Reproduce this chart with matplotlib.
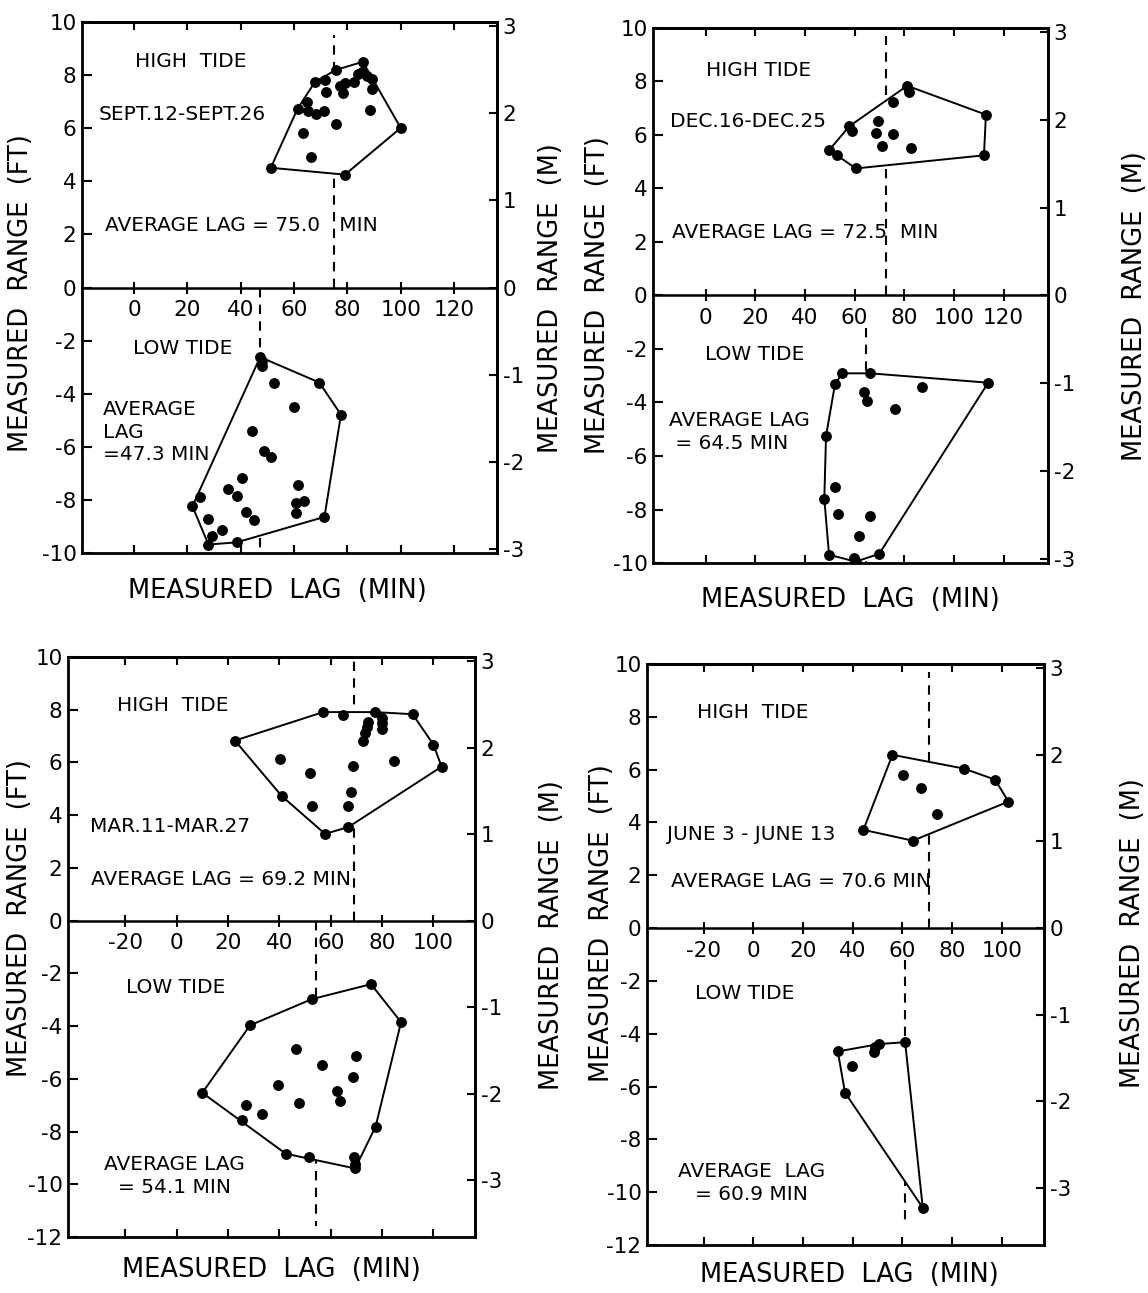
import numpy as np
import matplotlib
matplotlib.use("Agg")
import matplotlib.pyplot as plt

plt.rcParams['font.family'] = ['DejaVu Sans']
plt.rcParams['axes.unicode_minus'] = False

FT_PER_M = 3.2808

# ---------------- data: measured lag (min) vs measured range (ft) ----------------
# Sept. 12 - Sept. 26
sep_high_lag = [51.3, 61.3, 63.5, 66.3, 64.8, 65.4, 68.3, 71.3, 67.9, 71.6, 71.9, 75.8,
                75.8, 77.3, 78.3, 79.1, 79.1, 82.3, 83.9, 85.8, 85.4, 87.3, 89.1, 89.1,
                88.5, 100.0]
sep_high_range = [4.51, 6.73, 5.83, 4.91, 6.98, 6.66, 6.54, 6.63, 7.75, 7.83, 7.38, 8.20,
                  6.14, 7.58, 7.33, 7.70, 4.25, 7.73, 8.04, 8.50, 8.10, 7.98, 7.85, 7.48,
                  6.70, 6.01]
sep_low_lag = [47.3, 47.9, 47.9, 52.5, 69.5, 77.6, 60.0, 44.1, 48.8, 51.3, 40.4, 61.4,
               35.4, 38.8, 24.8, 21.9, 60.6, 63.9, 60.6, 41.9, 45.1, 71.4, 27.6, 33.1,
               29.1, 27.9, 38.5]
sep_low_range = [-2.62, -2.78, -2.94, -3.61, -3.58, -4.79, -4.50, -5.41, -6.15, -6.39,
                 -7.18, -7.45, -7.60, -7.87, -7.89, -8.24, -8.11, -8.03, -8.48, -8.45,
                 -8.75, -8.64, -8.72, -9.15, -9.36, -9.68, -9.60]
sep_avg_lag = [75.0, 47.3]

# Dec. 16 - Dec. 25
dec_high_lag = [49.8, 52.8, 57.9, 58.8, 60.5, 69.5, 68.6, 70.9, 75.6, 75.3, 81.2, 82.0,
                82.9, 112.9, 112.1]
dec_high_range = [5.44, 5.25, 6.33, 6.16, 4.75, 6.53, 6.09, 5.59, 6.04, 7.23, 7.84, 7.60,
                  5.50, 6.76, 5.24]
dec_low_lag = [55.0, 66.4, 52.1, 113.8, 87.0, 63.8, 64.8, 76.2, 48.5, 52.1, 47.8, 53.2,
               66.2, 61.9, 49.7, 59.9, 60.4, 69.9]
dec_low_range = [-2.91, -2.91, -3.32, -3.26, -3.41, -3.61, -3.94, -4.25, -5.25, -7.15,
                 -7.60, -8.15, -8.26, -8.98, -9.69, -9.80, -9.95, -9.66]
dec_avg_lag = [72.5, 64.5]

# Mar. 11 - Mar. 27
mar_high_lag = [22.7, 57.1, 64.9, 77.3, 91.9, 74.7, 74.0, 73.4, 72.7, 79.9, 79.9, 79.9,
                100.0, 103.2, 40.3, 51.9, 68.6, 84.8, 40.9, 52.6, 67.9, 66.6, 57.8, 66.9]
mar_high_range = [6.83, 7.91, 7.79, 7.91, 7.83, 7.54, 7.33, 7.11, 6.80, 7.67, 7.48, 7.26,
                  6.68, 5.84, 6.15, 5.59, 5.85, 6.04, 4.73, 4.35, 4.89, 4.35, 3.29, 3.55]
mar_low_lag = [75.7, 52.6, 28.6, 87.4, 46.4, 69.9, 56.5, 68.6, 39.6, 62.3, 63.6, 47.7,
               27.0, 33.1, 10.0, 25.3, 77.5, 42.5, 51.6, 69.1, 69.5, 69.5]
mar_low_range = [-2.41, -2.98, -3.97, -3.85, -4.87, -5.13, -5.49, -5.92, -6.25, -6.46,
                 -6.85, -6.90, -6.98, -7.35, -6.53, -7.56, -7.81, -8.84, -8.98, -8.98,
                 -9.22, -9.40]
mar_avg_lag = [69.2, 54.1]

# June 3 - June 13
jun_high_lag = [56.0, 60.4, 67.4, 73.8, 84.8, 97.3, 102.7, 44.3, 64.2]
jun_high_range = [6.56, 5.81, 5.29, 4.32, 6.04, 5.62, 4.79, 3.72, 3.31]
jun_low_lag = [34.0, 48.6, 49.0, 50.7, 61.1, 39.9, 36.9, 68.2]
jun_low_range = [-4.67, -4.71, -4.52, -4.39, -4.32, -5.23, -6.23, -10.59]
jun_avg_lag = [70.6, 60.9]

lag_ticks_a = [0, 20, 40, 60, 80, 100, 120]
lag_ticks_b = [-20, 0, 20, 40, 60, 80, 100]
meter_ticks = [-3, -2, -1, 0, 1, 2, 3]


def convex_hull(xs, ys):
    """Monotone-chain convex hull, returned as a closed ring of vertices."""
    pts = sorted(set(zip(xs, ys)))

    def cross(o, a, b):
        return (a[0] - o[0]) * (b[1] - o[1]) - (a[1] - o[1]) * (b[0] - o[0])

    lower, upper = [], []
    for p in pts:
        while len(lower) >= 2 and cross(lower[-2], lower[-1], p) <= 0:
            lower.pop()
        lower.append(p)
    for p in reversed(pts):
        while len(upper) >= 2 and cross(upper[-2], upper[-1], p) <= 0:
            upper.pop()
        upper.append(p)
    ring = lower[:-1] + upper[:-1]
    ring.append(ring[0])
    return np.array(ring)


W, H = 1148, 1293
fig = plt.figure(figsize=(W / 100, H / 100), dpi=100)

TICK_FS = 15.5
TEXT_FS = 14.5
LABEL_FS = 18.5


def px_rect(left, right, top, bottom):
    return [left / W, 1 - bottom / H, (right - left) / W, (bottom - top) / H]


def draw_group(ax, lags, ranges, avg, dash_span):
    hull = convex_hull(lags, ranges)
    ax.plot([avg, avg], dash_span, color='black', lw=1.5, ls=(0, (4.5, 3.5)), zorder=2)
    ax.fill(hull[:, 0], hull[:, 1], facecolor='white', edgecolor='black', lw=1.4, zorder=3)
    ax.plot(lags, ranges, 'o', color='black', ms=6.8, zorder=4)


def setup_axes(rect, xlim, ylim, xticks, label_pos):
    ax = fig.add_axes(rect)
    ax.set_xlim(*xlim)
    ax.set_ylim(*ylim)
    for s in ax.spines.values():
        s.set_linewidth(2.0)
    # lag axis drawn along the zero line
    ax.spines['bottom'].set_position(('data', 0))
    ax.spines['bottom'].set_linewidth(1.8)
    ax.set_xticks(xticks)
    ax.tick_params(axis='x', direction='inout', length=8, width=1.5, pad=5,
                   labelsize=TICK_FS, top=False, bottom=True)
    yt = np.arange(ylim[0], ylim[1] + 1, 2)
    ax.set_yticks(yt)
    ax.set_yticklabels([str(int(v)) for v in yt])
    ax.tick_params(axis='y', direction='in', length=7, width=1.5, pad=4,
                   labelsize=TICK_FS, left=True, right=False)

    # tick marks on the outer frame
    for loc in ('top', 'bottom'):
        sec = ax.secondary_xaxis(loc)
        sec.set_xticks(xticks)
        sec.tick_params(direction='in', length=5.5, width=1.5, labelbottom=False,
                        labeltop=False)
        sec.spines[loc].set_linewidth(2.0)

    # metric scale on the right
    sec_m = ax.secondary_yaxis('right', functions=(lambda f: f / FT_PER_M,
                                                   lambda m: m * FT_PER_M))
    sec_m.set_yticks(meter_ticks)
    sec_m.set_yticklabels([str(v) for v in meter_ticks])
    sec_m.tick_params(direction='in', length=6, width=1.5, pad=4, labelsize=TICK_FS)
    sec_m.spines['right'].set_linewidth(2.0)

    (lx, ly), (rx, ry), (bx, by) = label_pos
    ax.text(lx, ly, 'MEASURED  RANGE  (FT)', transform=ax.transAxes, rotation=90,
            ha='center', va='center', fontsize=LABEL_FS)
    ax.text(rx, ry, 'MEASURED  RANGE  (M)', transform=ax.transAxes, rotation=90,
            ha='center', va='center', fontsize=LABEL_FS)
    ax.text(bx, by, 'MEASURED  LAG  (MIN)', transform=ax.transAxes,
            ha='center', va='center', fontsize=LABEL_FS)
    return ax


# ---- September ----
ax1 = setup_axes(px_rect(82, 497, 22, 553), (-19.5, 136.1), (-10, 10), lag_ticks_a,
                 [(-0.148, 0.49), (1.13, 0.48), (0.47, -0.072)])
draw_group(ax1, sep_high_lag, sep_high_range, sep_avg_lag[0], [0, 9.5])
draw_group(ax1, sep_low_lag, sep_low_range, sep_avg_lag[1], [0, -10])
ax1.text(0.4, 8.5, 'HIGH  TIDE', fontsize=TEXT_FS, va='center')
ax1.text(-13.4, 6.5, 'SEPT.12-SEPT.26', fontsize=TEXT_FS, va='center')
ax1.text(-10.9, 2.35, 'AVERAGE LAG = 75.0   MIN', fontsize=TEXT_FS, va='center')
ax1.text(-0.5, -2.3, 'LOW TIDE', fontsize=TEXT_FS, va='center')
ax1.text(-11.5, -5.45, 'AVERAGE\nLAG\n=47.3 MIN', fontsize=TEXT_FS, va='center',
         linespacing=1.25)

# ---- December ----
ax2 = setup_axes(px_rect(653, 1048, 28, 563), (-21.2, 137.9), (-10, 10), lag_ticks_a,
                 [(-0.139, 0.5), (1.22, 0.48), (0.5, -0.07)])
draw_group(ax2, dec_high_lag, dec_high_range, dec_avg_lag[0], [0, 9.7])
draw_group(ax2, dec_low_lag, dec_low_range, dec_avg_lag[1], [-1.2, -10])
ax2.text(0.0, 8.42, 'HIGH TIDE', fontsize=TEXT_FS, va='center')
ax2.text(-14.4, 6.49, 'DEC.16-DEC.25', fontsize=TEXT_FS, va='center')
ax2.text(-13.7, 2.34, 'AVERAGE LAG = 72.5  MIN', fontsize=TEXT_FS, va='center')
ax2.text(-0.3, -2.2, 'LOW TIDE', fontsize=TEXT_FS, va='center')
ax2.text(-14.8, -5.1, 'AVERAGE LAG\n = 64.5 MIN', fontsize=TEXT_FS, va='center',
         linespacing=1.25)

# ---- March ----
ax3 = setup_axes(px_rect(68, 475, 657, 1237), (-42.3, 116.2), (-12, 10), lag_ticks_b,
                 [(-0.118, 0.55), (1.19, 0.52), (0.5, -0.057)])
draw_group(ax3, mar_high_lag, mar_high_range, mar_avg_lag[0], [0, 9.85])
draw_group(ax3, mar_low_lag, mar_low_range, mar_avg_lag[1], [0, -11.6])
ax3.text(-23.4, 8.15, 'HIGH  TIDE', fontsize=TEXT_FS, va='center')
ax3.text(-33.8, 3.58, 'MAR.11-MAR.27', fontsize=TEXT_FS, va='center')
ax3.text(-33.5, 1.57, 'AVERAGE LAG = 69.2 MIN', fontsize=TEXT_FS, va='center')
ax3.text(-19.7, -2.53, 'LOW TIDE', fontsize=TEXT_FS, va='center')
ax3.text(-1.0, -9.7, 'AVERAGE LAG\n= 54.1 MIN', fontsize=TEXT_FS, va='center',
         ha='center', multialignment='center', linespacing=1.25)

# ---- June ----
ax4 = setup_axes(px_rect(647, 1044, 664, 1245), (-42.8, 117.0), (-12, 10), lag_ticks_b,
                 [(-0.113, 0.554), (1.224, 0.537), (0.51, -0.052)])
draw_group(ax4, jun_high_lag, jun_high_range, jun_avg_lag[0], [0, 9.7])
draw_group(ax4, jun_low_lag, jun_low_range, jun_avg_lag[1], [-1.2, -11.2])
ax4.text(-22.5, 8.16, 'HIGH  TIDE', fontsize=TEXT_FS, va='center')
ax4.text(-34.6, 3.56, 'JUNE 3 - JUNE 13', fontsize=TEXT_FS, va='center')
ax4.text(-33.3, 1.78, 'AVERAGE LAG = 70.6 MIN', fontsize=TEXT_FS, va='center')
ax4.text(-23.5, -2.48, 'LOW TIDE', fontsize=TEXT_FS, va='center')
ax4.text(-0.7, -9.66, 'AVERAGE  LAG\n= 60.9 MIN', fontsize=TEXT_FS, va='center',
         ha='center', multialignment='center', linespacing=1.25)

fig.savefig('out.png', dpi=100)
